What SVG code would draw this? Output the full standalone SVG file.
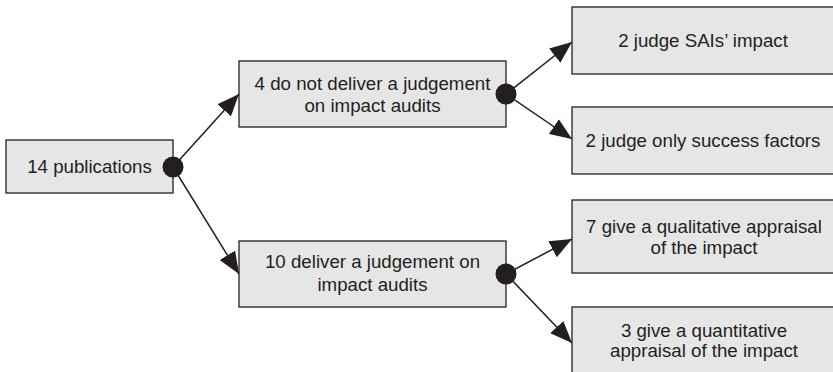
<svg xmlns="http://www.w3.org/2000/svg" width="833" height="372" viewBox="0 0 833 372">
  <style>
    .box { fill: #e6e6e7; stroke: #231f20; stroke-width: 1.3; }
    .lbl { font-family: "Liberation Sans", Arial, sans-serif; font-size: 18.7px; fill: #231f20; text-anchor: middle; }
    .edge { stroke: #231f20; stroke-width: 1.5; fill: none; marker-end: url(#arrow); }
    .dot { fill: #231f20; }
  </style>
  <defs>
    <marker id="arrow" markerUnits="userSpaceOnUse" markerWidth="23" markerHeight="19" viewBox="0 0 23 19" refX="22" refY="9.5" orient="auto">
      <path d="M0,0.5 L22,9.5 L0,18.5 z" fill="#231f20"/>
    </marker>
  </defs>

  <g id="connectors">
    <line class="edge" x1="173" y1="167" x2="239" y2="94"/>
    <line class="edge" x1="173" y1="167" x2="239" y2="274"/>
    <line class="edge" x1="506" y1="94" x2="572" y2="42"/>
    <line class="edge" x1="506" y1="94" x2="572" y2="139"/>
    <line class="edge" x1="506" y1="274" x2="572" y2="239"/>
    <line class="edge" x1="506" y1="274" x2="572" y2="343"/>
  </g>

  <g id="n1">
    <rect class="box" x="6" y="140" width="167" height="53"/>
    <text class="lbl" x="89.5" y="173">14 publications</text>
  </g>
  <g id="n2">
    <rect class="box" x="239" y="61" width="267" height="66"/>
    <text class="lbl" x="372.5" y="90">4 do not deliver a judgement</text>
    <text class="lbl" x="372.5" y="111.5">on impact audits</text>
  </g>
  <g id="n3">
    <rect class="box" x="239" y="241" width="267" height="66"/>
    <text class="lbl" x="372.5" y="268">10 deliver a judgement on</text>
    <text class="lbl" x="372.5" y="290.5">impact audits</text>
  </g>
  <g id="n4">
    <rect class="box" x="572" y="7" width="264" height="67"/>
    <text class="lbl" x="703" y="47">2 judge SAIs’ impact</text>
  </g>
  <g id="n5">
    <rect class="box" x="572" y="107" width="264" height="67"/>
    <text class="lbl" x="703" y="147">2 judge only success factors</text>
  </g>
  <g id="n6">
    <rect class="box" x="572" y="200" width="264" height="73"/>
    <text class="lbl" x="704" y="232.5">7 give a qualitative appraisal</text>
    <text class="lbl" x="704" y="254">of the impact</text>
  </g>
  <g id="n7">
    <rect class="box" x="572" y="307" width="264" height="73"/>
    <text class="lbl" x="704" y="336.5">3 give a quantitative</text>
    <text class="lbl" x="704" y="357">appraisal of the impact</text>
  </g>

  <!-- branch points drawn over the box edges -->
  <g id="junctions">
    <circle class="dot" cx="173" cy="167" r="10.5"/>
    <circle class="dot" cx="506" cy="94" r="10.5"/>
    <circle class="dot" cx="506" cy="274" r="10.5"/>
  </g>
</svg>
